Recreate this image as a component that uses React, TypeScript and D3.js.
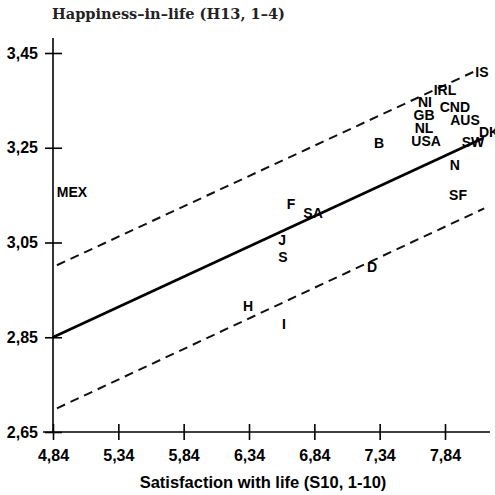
import React, { useEffect, useRef } from "react";
import * as d3 from "d3";

// country labels: position in data units (satisfaction, happiness)
const countries = ["MEX", "IS", "IRL", "NI", "CND", "GB", "AUS", "NL", "USA", "DK", "SW", "N", "SF", "B", "F", "SA", "J", "S", "D", "H", "I"];
const satisfaction = [4.985, 8.123, 7.84, 7.687, 7.916, 7.68, 7.993, 7.68, 7.695, 8.177, 8.054, 7.916, 7.94, 7.335, 6.661, 6.83, 6.593, 6.6, 7.281, 6.332, 6.608];
const happiness = [3.157, 3.41, 3.372, 3.347, 3.336, 3.319, 3.309, 3.292, 3.264, 3.283, 3.262, 3.214, 3.15, 3.26, 3.131, 3.112, 3.055, 3.019, 2.998, 2.916, 2.878];

const xTicks = [4.84, 5.34, 5.84, 6.34, 6.84, 7.34, 7.84];
const xTickLabels = ["4,84", "5,34", "5,84", "6,34", "6,84", "7,34", "7,84"];
const yTicks = [2.65, 2.85, 3.05, 3.25, 3.45];
const yTickLabels = ["2,65", "2,85", "3,05", "3,25", "3,45"];

// regression line and its band (endpoints)
const fitX = [4.84, 8.13];
const fitY = [2.85, 3.27];
const upperX = [4.87, 8.08];
const upperY = [3.002, 3.413];
const lowerX = [4.87, 8.14];
const lowerY = [2.70, 3.122];

const W = 495;
const H = 495;

const App = () => {
  const svgRef = useRef(null);

  useEffect(() => {
    const svg = d3.select(svgRef.current);
    svg.selectAll("*").remove();

    const x = d3.scaleLinear().domain([4.84, 7.84]).range([53, 445]);
    const y = d3.scaleLinear().domain([2.65, 3.45]).range([432, 53]);
    const xEnd = 490;
    const yTop = 38;

    svg.append("rect").attr("width", W).attr("height", H).attr("fill", "#fff");

    const tickFont = "'Liberation Sans Narrow', 'Arial Narrow', 'Liberation Sans', Arial, sans-serif";

    // x axis
    const gx = svg.append("g").attr("transform", `translate(0,${y(2.65)})`);
    gx.call(
      d3.axisBottom(x)
        .tickValues(xTicks)
        .tickFormat((d, i) => xTickLabels[i])
        .tickSizeInner(8)
        .tickSizeOuter(0)
        .tickPadding(10)
    );
    gx.select(".domain").attr("d", `M${x(4.84) - 10},0H${xEnd}`).attr("stroke-width", 1.6);
    gx.selectAll(".tick line").attr("y1", -8).attr("y2", 8).attr("stroke-width", 1.6);
    gx.selectAll(".tick text")
      .attr("font-family", tickFont)
      .attr("font-weight", "bold")
      .attr("font-size", 16)
      .attr("fill", "#000");

    // y axis
    const gy = svg.append("g").attr("transform", `translate(${x(4.84)},0)`);
    gy.call(
      d3.axisLeft(y)
        .tickValues(yTicks)
        .tickFormat((d, i) => yTickLabels[i])
        .tickSizeInner(8)
        .tickSizeOuter(0)
        .tickPadding(6)
    );
    gy.select(".domain").attr("d", `M0,${yTop}V${y(2.65)}`).attr("stroke-width", 1.6);
    gy.selectAll(".tick line").attr("x1", -8).attr("x2", 9).attr("stroke-width", 1.6);
    gy.selectAll(".tick text")
      .attr("x", -15)
      .attr("font-family", tickFont)
      .attr("font-weight", "bold")
      .attr("font-size", 16)
      .attr("fill", "#000");

    const line = d3.line().x((d) => x(d[0])).y((d) => y(d[1]));

    svg.append("path")
      .attr("d", line(d3.zip(fitX, fitY)))
      .attr("fill", "none")
      .attr("stroke", "#000")
      .attr("stroke-width", 2.6);

    [[upperX, upperY], [lowerX, lowerY]].forEach(([xs, ys]) => {
      svg.append("path")
        .attr("d", line(d3.zip(xs, ys)))
        .attr("fill", "none")
        .attr("stroke", "#111")
        .attr("stroke-width", 2)
        .attr("stroke-dasharray", "9,6");
    });

    // labels
    svg.append("g")
      .selectAll("text")
      .data(countries)
      .join("text")
      .attr("x", (d, i) => x(satisfaction[i]))
      .attr("y", (d, i) => y(happiness[i]))
      .attr("dy", "0.36em")
      .attr("text-anchor", "middle")
      .attr("font-family", "'Liberation Sans', Arial, sans-serif")
      .attr("font-weight", "bold")
      .attr("font-size", 14)
      .attr("fill", "#000")
      .text((d) => d);

    // titles
    svg.append("text")
      .attr("x", 52)
      .attr("y", 19)
      .attr("font-family", "'DejaVu Serif', serif")
      .attr("font-weight", "bold")
      .attr("font-size", 14)
      .attr("textLength", 233)
      .attr("lengthAdjust", "spacingAndGlyphs")
      .attr("fill", "#222")
      .text("Happiness\u2013in\u2013life (H13, 1\u20134)");

    svg.append("text")
      .attr("x", 263)
      .attr("y", 488)
      .attr("text-anchor", "middle")
      .attr("font-family", "'Liberation Sans', Arial, sans-serif")
      .attr("font-weight", "bold")
      .attr("font-size", 16.5)
      .attr("fill", "#000")
      .text("Satisfaction with life (S10, 1-10)");
  }, []);

  return (
    <div style={{ position: "absolute", left: 0, top: 0 }}>
      <svg ref={svgRef} width={W} height={H} style={{ display: "block" }}></svg>
    </div>
  );
};

export default App;
